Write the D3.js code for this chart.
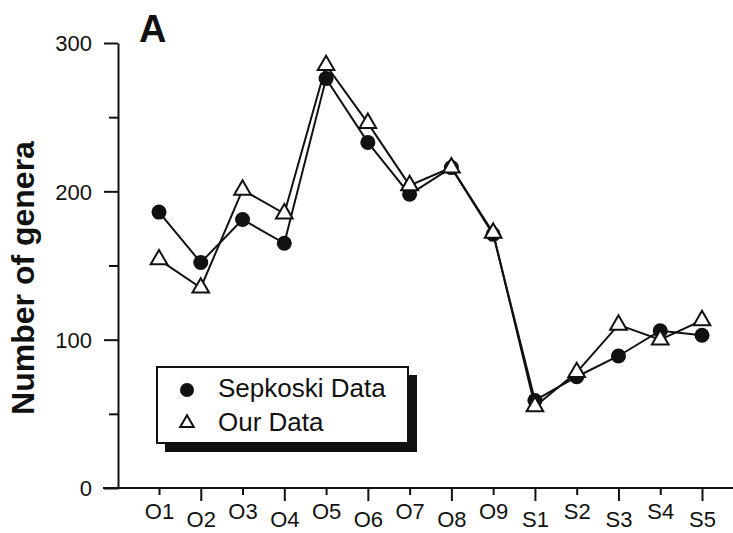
<!DOCTYPE html>
<html>
<head>
<meta charset="utf-8">
<script src="https://cdn.jsdelivr.net/npm/d3@7"></script>
<style>
  body { margin: 0; background: #fff; }
  svg text { font-family: "Liberation Sans", Arial, Helvetica, sans-serif; fill: #111; }
</style>
</head>
<body>
<div id="chart"></div>
<script>
// stages along the x axis
let stages = ["O1", "O2", "O3", "O4", "O5", "O6", "O7", "O8", "O9", "S1", "S2", "S3", "S4", "S5"];
// number of genera
let sepkoski = [186, 152, 181, 165, 276, 233, 198, 216, 171, 59, 75, 89, 106, 103];
let ourData  = [154, 135, 201, 185, 285, 246, 204, 216, 172, 55, 78, 110, 100, 113];
let yMajor = [0, 100, 200, 300];
let yMinor = [50, 150, 250];
let legendLabels = ["Sepkoski Data", "Our Data"];

let width = 733, height = 533;

let svg = d3.select("#chart").append("svg")
    .attr("width", width)
    .attr("height", height);

let x = d3.scalePoint()
    .domain(stages)
    .range([159, 702]);

let y = d3.scaleLinear()
    .domain([0, 300])
    .range([488, 43]);

let axisX = 118;

// y axis, major ticks with labels
let yAxis = svg.append("g")
    .attr("transform", "translate(" + axisX + ",0)")
    .call(d3.axisLeft(y).tickValues(yMajor).tickSize(14).tickPadding(12).tickSizeOuter(0));
yAxis.select(".domain").attr("stroke", "#111").attr("stroke-width", 2);
yAxis.selectAll(".tick line").attr("stroke", "#111").attr("stroke-width", 2);
yAxis.selectAll(".tick text").style("font-size", "22px").attr("dy", "0.36em");

// minor ticks
let yMin = svg.append("g")
    .attr("transform", "translate(" + axisX + ",0)")
    .call(d3.axisLeft(y).tickValues(yMinor).tickSize(9).tickFormat(""));
yMin.select(".domain").remove();
yMin.selectAll(".tick line").attr("stroke", "#111").attr("stroke-width", 2);

// x axis baseline runs from the 0 tick to the right edge
svg.append("line")
    .attr("x1", axisX - 15).attr("x2", width)
    .attr("y1", y(0)).attr("y2", y(0))
    .attr("stroke", "#111").attr("stroke-width", 2);

let xAxis = svg.append("g")
    .attr("transform", "translate(0," + y(0) + ")")
    .call(d3.axisBottom(x).tickSize(0));
xAxis.select(".domain").remove();
xAxis.selectAll(".tick line")
    .attr("stroke", "#111").attr("stroke-width", 2)
    .attr("y2", (d, i) => i % 2 === 0 ? 7 : 13);
xAxis.selectAll(".tick text")
    .style("font-size", "22px")
    .attr("dy", null)
    .attr("y", (d, i) => i % 2 === 0 ? 31 : 39);

// y title
svg.append("text")
    .attr("transform", "translate(34,278) rotate(-90)")
    .attr("text-anchor", "middle")
    .style("font-size", "32px")
    .style("font-weight", "bold")
    .text("Number of genera");

// panel letter
svg.append("text")
    .attr("x", 139).attr("y", 42)
    .style("font-size", "38px")
    .style("font-weight", "bold")
    .text("A");

let line = d3.line()
    .x((d, i) => x(stages[i]))
    .y(d => y(d));

svg.append("path")
    .datum(sepkoski)
    .attr("d", line)
    .attr("fill", "none").attr("stroke", "#111").attr("stroke-width", 2);

svg.append("path")
    .datum(ourData)
    .attr("d", line)
    .attr("fill", "none").attr("stroke", "#111").attr("stroke-width", 2);

let tri = d3.symbol().type(d3.symbolTriangle).size(120);

svg.selectAll(".dot")
    .data(sepkoski)
    .enter().append("circle")
    .attr("class", "dot")
    .attr("cx", (d, i) => x(stages[i]))
    .attr("cy", d => y(d))
    .attr("r", 7.5)
    .attr("fill", "#111");

svg.selectAll(".tri")
    .data(ourData)
    .enter().append("path")
    .attr("class", "tri")
    .attr("d", tri)
    .attr("transform", (d, i) => "translate(" + x(stages[i]) + "," + y(d) + ")")
    .attr("fill", "#fff")
    .attr("stroke", "#111")
    .attr("stroke-width", 2);

// legend with drop shadow
let legend = svg.append("g").attr("class", "legend");
legend.append("rect")
    .attr("x", 165).attr("y", 375).attr("width", 252).attr("height", 77)
    .attr("fill", "#111");
legend.append("rect")
    .attr("x", 157).attr("y", 367).attr("width", 251).attr("height", 76)
    .attr("fill", "#fff").attr("stroke", "#111").attr("stroke-width", 2);

legend.append("circle")
    .attr("cx", 187).attr("cy", 390).attr("r", 7)
    .attr("fill", "#111");
legend.append("path")
    .attr("d", d3.symbol().type(d3.symbolTriangle).size(80))
    .attr("transform", "translate(187,423)")
    .attr("fill", "#fff").attr("stroke", "#111").attr("stroke-width", 2);

legend.selectAll(".ltext")
    .data(legendLabels)
    .enter().append("text")
    .attr("class", "ltext")
    .attr("x", 218)
    .attr("y", (d, i) => 397 + i * 34)
    .style("font-size", "26px")
    .text(d => d);
</script>
</body>
</html>
